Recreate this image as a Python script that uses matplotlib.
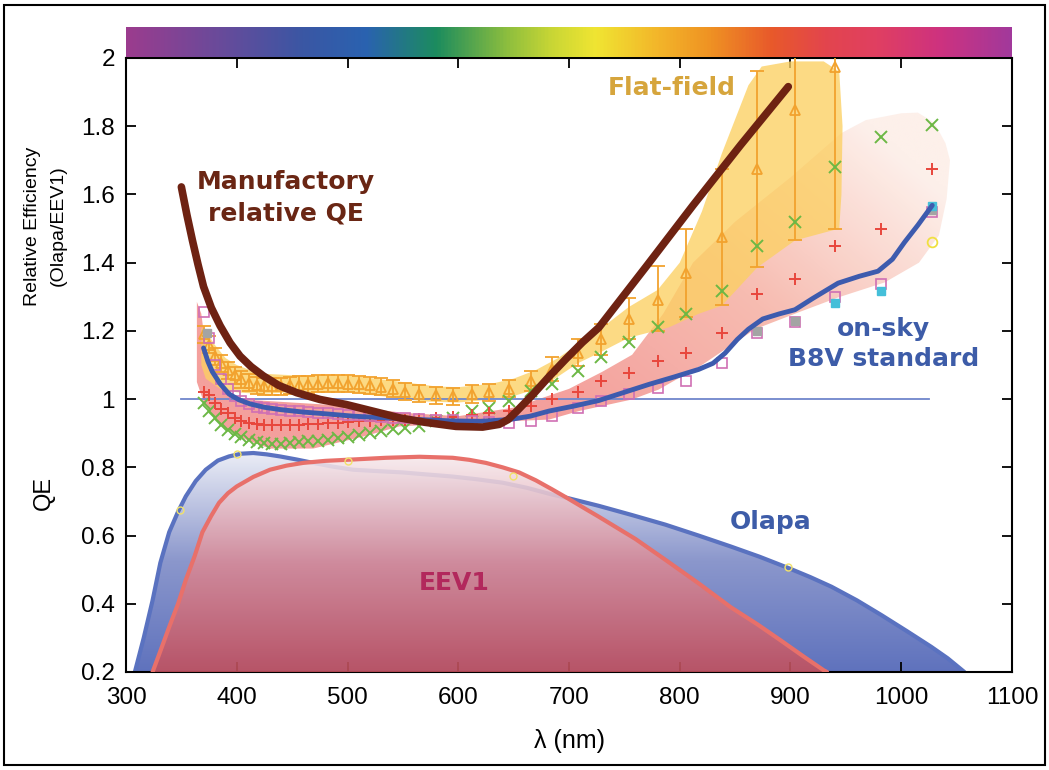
import numpy as np
import matplotlib.pyplot as plt
from matplotlib.colors import LinearSegmentedColormap
from matplotlib.patches import Polygon, Rectangle

# ---- QE curves (lower part) ----
olapa_wl = [308, 316, 324, 331, 339, 347, 354, 363, 372, 383, 393, 404, 415, 427, 439,
            454, 469, 487, 505, 527, 550, 572, 595, 617, 640, 662, 685, 700, 716, 727,
            757, 787, 817, 846, 872, 898, 918, 937, 960, 982, 1005, 1027, 1042, 1057]
olapa_qe = [0.20, 0.30, 0.41, 0.52, 0.61, 0.67, 0.715, 0.76, 0.793, 0.82, 0.832, 0.84, 0.842,
            0.838, 0.832, 0.823, 0.813, 0.802, 0.793, 0.789, 0.785, 0.779, 0.773, 0.765,
            0.755, 0.74, 0.72, 0.709, 0.696, 0.687, 0.66, 0.632, 0.60, 0.568, 0.538,
            0.505, 0.478, 0.45, 0.41, 0.367, 0.32, 0.274, 0.24, 0.20]

eev1_wl = [324, 332, 339, 347, 354, 362, 369, 377, 384, 392, 400, 415, 430, 445, 460, 480,
           505, 535, 565, 595, 610, 625, 640, 655, 670, 685, 700, 716, 727, 760, 787, 817,
           846, 870, 891, 912, 930, 933]
eev1_qe = [0.20, 0.27, 0.332, 0.40, 0.47, 0.54, 0.61, 0.658, 0.696, 0.724, 0.744, 0.772,
           0.793, 0.805, 0.813, 0.819, 0.823, 0.828, 0.831, 0.828, 0.822, 0.813, 0.80,
           0.785, 0.762, 0.735, 0.707, 0.676, 0.655, 0.59, 0.529, 0.46, 0.39, 0.34,
           0.293, 0.245, 0.205, 0.20]

qe_dot_wl = [349, 400, 500, 649, 898]
qe_dot_val = [0.676, 0.84, 0.82, 0.774, 0.509]

# ---- relative efficiency (upper part) ----
rel_wl = [370, 375, 380, 386, 392, 398, 404, 411, 418, 425, 432, 440, 448, 456, 464, 473,
          482, 491, 500, 510, 520, 530, 541, 552, 565, 580, 595, 612, 628, 646, 666, 685,
          708, 729, 754, 780, 806, 838, 870, 904, 940, 982, 1028]

cross_val = [0.99, 0.965, 0.945, 0.925, 0.91, 0.898, 0.889, 0.88, 0.873, 0.87, 0.869, 0.869,
             0.871, 0.874, 0.876, 0.878, 0.881, 0.885, 0.889, 0.894, 0.90, 0.906, 0.911,
             0.916, 0.92, 0.935, 0.945, 0.965, 0.975, 0.994, 1.024, 1.043, 1.082, 1.122,
             1.166, 1.21, 1.25, 1.318, 1.45, 1.518, 1.68, 1.769, 1.803]

plus_val = [1.02, 1.012, 0.99, 0.972, 0.958, 0.945, 0.937, 0.931, 0.927, 0.925, 0.924, 0.924,
            0.925, 0.925, 0.926, 0.928, 0.93, 0.931, 0.933, 0.935, 0.936, 0.938, 0.939,
            0.94, 0.942, 0.945, 0.948, 0.952, 0.958, 0.966, 0.979, 0.999, 1.022, 1.053,
            1.078, 1.112, 1.136, 1.193, 1.308, 1.352, 1.45, 1.50, 1.675]

square_val = [1.254, 1.18, 1.10, 1.06, 1.03, 1.01, 0.995, 0.985, 0.978, 0.973, 0.97, 0.968,
              0.966, 0.964, 0.962, 0.96, 0.958, 0.956, 0.954, 0.952, 0.95, 0.948, 0.946,
              0.944, 0.942, 0.94, 0.938, 0.936, 0.933, 0.93, 0.935, 0.95, 0.975, 0.994,
              1.014, 1.033, 1.053, 1.107, 1.195, 1.225, 1.298, 1.337, 1.548]

cyan_wl = [940, 982, 1028]
cyan_val = [1.283, 1.318, 1.565]
gray_wl = [373, 870, 904, 1028]
gray_val = [1.195, 1.20, 1.23, 1.555]
circle_wl = [1028]
circle_val = [1.46]

ff_wl = rel_wl[:-2]
ff_val = [1.19, 1.16, 1.125, 1.105, 1.085, 1.07, 1.058, 1.048, 1.04, 1.037, 1.037, 1.038,
          1.04, 1.042, 1.044, 1.045, 1.046, 1.046, 1.045, 1.043, 1.04, 1.036, 1.03, 1.022,
          1.016, 1.011, 1.009, 1.015, 1.02, 1.03, 1.053, 1.087, 1.136, 1.175, 1.235,
          1.29, 1.37, 1.475, 1.676, 1.847, 1.975]
ff_lo = [0.025] * 30 + [0.03, 0.035, 0.04, 0.045, 0.06, 0.09, 0.13, 0.20, 0.29, 0.382, 0.475]
ff_hi = [0.025] * 30 + [0.03, 0.035, 0.04, 0.045, 0.06, 0.10, 0.13, 0.20, 0.286, 0.20, 0.20]

# flat-field envelope
ff_band_top_wl = [368, 372, 380, 390, 400, 420, 450, 500, 550, 580, 600, 630, 650, 670, 690,
                  710, 730, 754, 780, 800, 820, 838, 850, 862, 874, 900, 930, 944, 947, 946]
ff_band_top = [1.21, 1.20, 1.16, 1.12, 1.10, 1.075, 1.07, 1.07, 1.05, 1.037, 1.035, 1.045,
               1.06, 1.085, 1.12, 1.165, 1.21, 1.27, 1.32, 1.40, 1.55, 1.72, 1.82, 1.92,
               1.975, 1.99, 1.99, 1.96, 1.80, 1.60]
ff_band_bot_wl = [944, 904, 870, 838, 817, 790, 754, 730, 708, 685, 666, 646, 628, 600, 570,
                  540, 500, 450, 420, 400, 385, 372, 368]
ff_band_bot = [1.50, 1.465, 1.386, 1.274, 1.25, 1.21, 1.18, 1.14, 1.105, 1.055, 1.025, 1.005,
               0.998, 0.99, 0.993, 1.005, 1.02, 1.02, 1.015, 1.02, 1.03, 1.06, 1.10]

# on-sky envelope
sky_band_top_wl = [364, 368, 372, 380, 400, 450, 500, 550, 600, 650, 700, 730, 757, 785, 812,
                   850, 900, 946, 968, 1000, 1015, 1030, 1040, 1044]
sky_band_top = [1.285, 1.25, 1.15, 1.06, 1.0, 0.99, 0.98, 0.96, 0.95, 0.975, 1.03, 1.08,
                1.13, 1.25, 1.40, 1.52, 1.65, 1.78, 1.818, 1.838, 1.84, 1.81, 1.75, 1.70]
sky_band_bot_wl = [1041, 1034, 1016, 985, 943, 907, 868, 820, 781, 757, 709, 682, 607, 547,
                   514, 469, 430, 409, 388, 371, 364]
sky_band_bot = [1.587, 1.48, 1.40, 1.342, 1.298, 1.254, 1.205, 1.10, 1.028, 0.999, 0.965,
                0.94, 0.93, 0.92, 0.89, 0.855, 0.855, 0.88, 0.92, 0.984, 1.05]

# on-sky B8V standard curve
sky_wl = [370, 374, 378, 385, 393, 402, 412, 425, 440, 460, 480, 505, 535, 565, 595, 620,
          646, 665, 682, 705, 727, 750, 772, 795, 817, 830, 841, 852, 862, 875, 890, 904,
          920, 943, 962, 979, 992, 1003, 1015, 1028]
sky_val = [1.15, 1.11, 1.08, 1.045, 1.015, 0.998, 0.986, 0.976, 0.969, 0.962, 0.957, 0.95,
           0.945, 0.94, 0.936, 0.935, 0.94, 0.95, 0.965, 0.98, 0.996, 1.02, 1.043, 1.065,
           1.087, 1.105, 1.135, 1.175, 1.205, 1.235, 1.25, 1.262, 1.295, 1.34, 1.36, 1.375,
           1.41, 1.46, 1.51, 1.568]

# manufacturer relative QE
mfg_wl = [350, 355, 360, 365, 370, 377, 385, 394, 403, 413, 424, 438, 454, 475, 499, 525,
          547, 570, 598, 622, 637, 645, 652, 667, 682, 697, 712, 727, 770, 812, 855, 898]
mfg_val = [1.622, 1.54, 1.465, 1.395, 1.33, 1.268, 1.215, 1.165, 1.126, 1.095, 1.068, 1.04,
           1.019, 0.999, 0.984, 0.963, 0.945, 0.932, 0.92, 0.918, 0.926, 0.94, 0.962,
           1.012, 1.066, 1.117, 1.166, 1.21, 1.39, 1.568, 1.745, 1.916]

yticks = [0.2, 0.4, 0.6, 0.8, 1.0, 1.2, 1.4, 1.6, 1.8, 2.0]
ytick_labels = ["0.2", "0.4", "0.6", "0.8", "1", "1.2", "1.4", "1.6", "1.8", "2"]
xticks = [300, 400, 500, 600, 700, 800, 900, 1000, 1100]

W, H = 1049, 770
fig = plt.figure(figsize=(W / 100, H / 100), dpi=100)
ax = fig.add_axes([126 / W, 1 - 672 / H, 886 / W, 614 / H])


def gradient_patch(ax, verts, cmap, extent, z, alpha=1.0, grid=None):
    patch = Polygon(verts, closed=True, facecolor="none", edgecolor="none")
    ax.add_patch(patch)
    if grid is None:
        grid = np.linspace(0, 1, 256).reshape(-1, 1)
    im = ax.imshow(grid, extent=extent, origin="lower", aspect="auto", cmap=cmap,
                   zorder=z, alpha=alpha, interpolation="bicubic")
    im.set_clip_path(patch)
    return im


# QE fills with vertical gradients
olapa_cmap = LinearSegmentedColormap.from_list("olapa", ["#5F72BD", "#8B97CC", "#EDEFF7"])
eev1_cmap = LinearSegmentedColormap.from_list("eev1", ["#C4505C", "#D98A97", "#F7ECEF"])
verts = list(zip(olapa_wl, olapa_qe)) + [(olapa_wl[-1], 0.2), (olapa_wl[0], 0.2)]
gradient_patch(ax, verts, olapa_cmap, [300, 1100, 0.2, 0.85], 1)
ax.plot(olapa_wl, olapa_qe, color="#5A72C0", lw=3, zorder=2, solid_capstyle="round")
verts = list(zip(eev1_wl, eev1_qe)) + [(eev1_wl[-1], 0.2), (eev1_wl[0], 0.2)]
gradient_patch(ax, verts, eev1_cmap, [300, 1100, 0.2, 0.84], 3, alpha=0.88)
ax.plot(eev1_wl, eev1_qe, color="#E8706A", lw=3, zorder=4, solid_capstyle="round")
ax.plot(qe_dot_wl, qe_dot_val, "o", ms=5, mfc="none", mec="#F2E26A", mew=1, zorder=5)

# on-sky envelope: salmon on the blue side, fading towards the red end
gx, gy = np.meshgrid(np.linspace(355, 1050, 200), np.linspace(0.8, 1.9, 200))
fade = np.clip((gx - 650) / 400 * 0.7 + (gy - 1.1) / 0.8 * 0.5, 0, 1)
sky_cmap = LinearSegmentedColormap.from_list("sky", ["#F39894", "#F7B6AA", "#FDEFE9"])
verts = list(zip(sky_band_top_wl, sky_band_top)) + list(zip(sky_band_bot_wl, sky_band_bot))
gradient_patch(ax, verts, sky_cmap, [355, 1050, 0.8, 1.9], 6, alpha=0.92, grid=fade)

# flat-field envelope
verts = list(zip(ff_band_top_wl, ff_band_top)) + list(zip(ff_band_bot_wl, ff_band_bot))
ax.add_patch(Polygon(verts, closed=True, facecolor="#FCD062", edgecolor="none",
                     alpha=0.78, zorder=7))

ax.plot([350, 1025], [1, 1], color="#6F86CC", lw=1.3, zorder=8)

ax.errorbar(ff_wl, ff_val, yerr=[ff_lo, ff_hi], fmt="^", ms=7, mfc="none", mec="#F2A22E",
            mew=1.3, ecolor="#F2A22E", elinewidth=1.3, capsize=5, capthick=1.3, zorder=9)
ax.plot(rel_wl, cross_val, "x", ms=8, mew=1.4, color="#6CB845", zorder=10)
ax.plot(rel_wl, plus_val, "+", ms=9, mew=1.4, color="#E8463C", zorder=10)
ax.plot(rel_wl, square_val, "s", ms=7, mfc="none", mec="#CF6FB4", mew=1.2, zorder=10)
ax.plot(gray_wl, gray_val, "s", ms=6, color="#A4A4A4", zorder=10)
ax.plot(cyan_wl, cyan_val, "s", ms=6, color="#45BFD9", zorder=10)
ax.plot(circle_wl, circle_val, "o", ms=7, mfc="none", mec="#F0E040", mew=1.3, zorder=10)

ax.plot(sky_wl, sky_val, color="#3D5BAE", lw=3.5, zorder=11, solid_capstyle="round")
ax.plot(mfg_wl, mfg_val, color="#6E2212", lw=5.5, zorder=12, solid_capstyle="round")

# curve labels
lab = dict(family="DejaVu Sans", fontweight="bold", fontsize=18, ha="center", va="center",
           zorder=13)
ax.text(444, 1.636, "Manufactory", color="#6A2614", **lab)
ax.text(444, 1.543, "relative QE", color="#6A2614", **lab)
ax.text(793, 1.911, "Flat-field", color="#D6A53C", **lab)
ax.text(984, 1.205, "on-sky", color="#3D5CA8", **lab)
ax.text(984, 1.117, "B8V standard", color="#3D5CA8", **lab)
ax.text(882, 0.64, "Olapa", color="#3D5CA8", **lab)
ax.text(596, 0.46, "EEV1", color="#B2285C", **lab)

ax.set_xlim(300, 1100)
ax.set_ylim(0.2, 2.0)
ax.set_xticks(xticks)
ax.set_xticklabels([str(v) for v in xticks])
ax.set_yticks(yticks)
ax.set_yticklabels(ytick_labels)
ax.tick_params(direction="in", length=7, width=1.3, top=True, right=True,
               labelsize=17.5, pad=8)
ax.tick_params(axis="x", pad=11)
for lbl in ax.get_xticklabels() + ax.get_yticklabels():
    lbl.set_family("Liberation Sans")
for s in ax.spines.values():
    s.set_linewidth(1.5)
ax.set_xlabel("λ (nm)", family="Liberation Sans", fontsize=18, labelpad=14)

fig.text(44 / W, 1 - 493 / H, "QE", rotation=90, ha="center", va="center",
         family="Liberation Sans", fontsize=17)
fig.text(33 / W, 1 - 226 / H, "Relative Efficiency", rotation=90, ha="center",
         va="center", family="Liberation Sans", fontsize=14)
fig.text(58 / W, 1 - 226 / H, "(Olapa/EEV1)", rotation=90, ha="center", va="center",
         family="Liberation Sans", fontsize=14)

# spectrum strip above the plot
spec = LinearSegmentedColormap.from_list("spec", [
    (0.0, "#9B3C8E"), (0.10, "#6B4A9A"), (0.20, "#3A57A4"), (0.27, "#2A62B0"),
    (0.35, "#1C8C5E"), (0.43, "#8DBE3E"), (0.48, "#C8D635"), (0.53, "#F0E532"),
    (0.60, "#F3B62A"), (0.66, "#EF9223"), (0.73, "#E8592B"), (0.79, "#E3454D"),
    (0.85, "#E03F62"), (0.92, "#CE327F"), (1.0, "#A2399B")])
cax = fig.add_axes([126 / W, 1 - 57 / H, 886 / W, 30 / H])
cax.imshow(np.linspace(0, 1, 512).reshape(1, -1), aspect="auto", cmap=spec)
cax.set_axis_off()

fig.patches.append(Rectangle((4 / W, 5 / H), 1041 / W, 760 / H, transform=fig.transFigure,
                             fill=False, edgecolor="black", lw=1.5))

fig.savefig("out.png", dpi=100)
